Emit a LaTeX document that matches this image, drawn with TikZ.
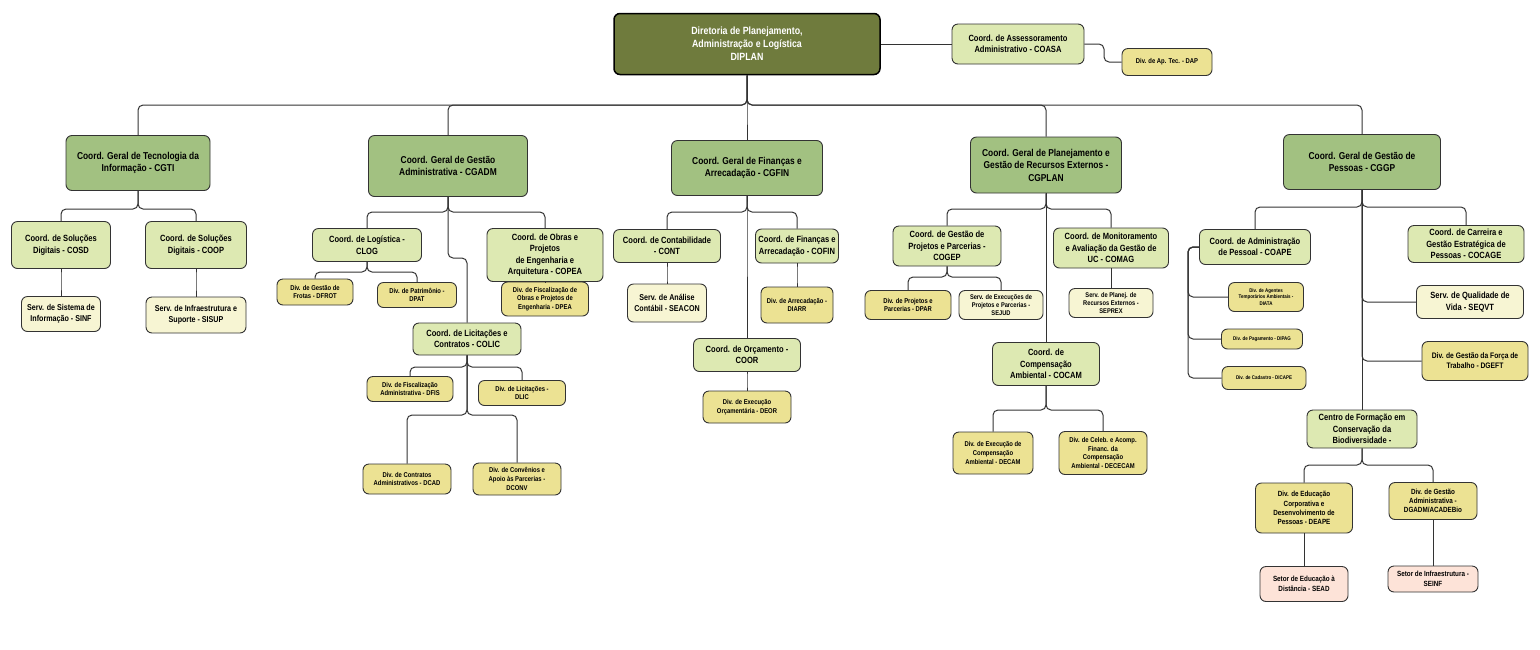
\documentclass[tikz,border=0pt]{standalone}
\usepackage{fontspec}
\setmainfont{Liberation Sans}[FakeStretch=0.84]
\begin{document}
\definecolor{cdip}{HTML}{6F7B3D}
\definecolor{cgen}{HTML}{A2C181}
\definecolor{ccoo}{HTML}{DDE9B2}
\definecolor{cyel}{HTML}{ECE293}
\definecolor{cpal}{HTML}{F7F5D3}
\definecolor{cpnk}{HTML}{FDE3D8}
\definecolor{cbrd}{HTML}{333333}
\begin{tikzpicture}[x=1pt,y=-1pt,
  wh/.style 2 args={minimum width=#1pt,minimum height=#2pt},
  box/.style={draw=cbrd,line width=0.9pt,rounded corners=6pt,align=center,inner sep=1pt,font=\bfseries},
  lv0/.style={box,fill=cdip,text=white,draw=black,line width=1.5pt,font=\bfseries\fontsize{10.5}{13}\selectfont},
  lv1/.style={box,fill=cgen,font=\bfseries\fontsize{10}{12.5}\selectfont},
  lv2/.style={box,fill=ccoo,font=\bfseries\fontsize{9}{11.5}\selectfont},
  dv/.style={box,fill=cyel,font=\bfseries\fontsize{7}{8.6}\selectfont},
  sv/.style={box,fill=cpal,font=\bfseries\fontsize{8.5}{10.5}\selectfont},
  st/.style={box,fill=cpnk,font=\bfseries\fontsize{7.5}{9.5}\selectfont},
  conn/.style={draw=cbrd,line width=1pt,rounded corners=5pt}]
\newcommand\tree[3]{\draw[conn] (#1.south) -- (#1.south |- 0,#3) -| (#2.north);}
\fill[white] (0,0) rectangle (1540,649);
\useasboundingbox (0,0) rectangle (1540,649);

\node[lv0,wh={266}{61}] (DIPLAN) at (747,44) {Diretoria de Planejamento,\\Administração e Logística\\DIPLAN};
\node[lv2,wh={132}{40}] (COASA) at (1018,44) {Coord. de Assessoramento\\Administrativo - COASA};
\node[dv,wh={90}{27}] (DAP) at (1167,62) {Div. de Ap. Tec. - DAP};

\node[lv1,wh={144}{55}] (CGTI) at (138,163) {Coord. Geral de Tecnologia da\\Informação - CGTI};
\node[lv1,wh={159}{61}] (CGADM) at (448,166) {Coord. Geral de Gestão\\Administrativa - CGADM};
\node[lv1,wh={151}{55}] (CGFIN) at (747,168) {Coord. Geral de Finanças e\\Arrecadação - CGFIN};
\node[lv1,wh={151}{56}] (CGPLAN) at (1046,165) {Coord. Geral de Planejamento e\\Gestão de Recursos Externos -\\CGPLAN};
\node[lv1,wh={157}{55}] (CGGP) at (1362,162) {Coord. Geral de Gestão de\\Pessoas - CGGP};

\node[lv2,wh={99}{47}] (COSD) at (61,245) {Coord. de Soluções\\Digitais - COSD};
\node[lv2,wh={101}{47}] (COOP) at (196,245) {Coord. de Soluções\\Digitais - COOP};
\node[sv,wh={79}{35}] (SINF) at (61,314) {Serv. de Sistema de\\Informação - SINF};
\node[sv,wh={100}{36}] (SISUP) at (196,315) {Serv. de Infraestrutura e\\Suporte - SISUP};

\node[lv2,wh={109}{33}] (CLOG) at (367,245) {Coord. de Logística -\\CLOG};
\node[lv2,wh={116}{53}] (COPEA) at (545,255) {Coord. de Obras e\\Projetos\\de Engenharia e\\Arquitetura - COPEA};
\node[dv,wh={76}{26}] (DFROT) at (315,292) {Div. de Gestão de\\Frotas - DFROT};
\node[dv,wh={79}{25}] (DPAT) at (417,295) {Div. de Patrimônio -\\DPAT};
\node[dv,wh={87}{34}] (DPEA) at (545,299) {Div. de Fiscalização de\\Obras e Projetos de\\Engenharia - DPEA};
\node[lv2,wh={108}{32}] (COLIC) at (467,339) {Coord. de Licitações e\\Contratos - COLIC};
\node[dv,wh={86}{25}] (DFIS) at (410,389) {Div. de Fiscalização\\Administrativa - DFIS};
\node[dv,wh={87}{25}] (DLIC) at (522,393) {Div. de Licitações -\\DLIC};
\node[dv,wh={88}{30}] (DCAD) at (407,479) {Div. de Contratos\\Administrativos - DCAD};
\node[dv,wh={88}{32}] (DCONV) at (517,479) {Div. de Convênios e\\Apoio às Parcerias -\\DCONV};

\node[lv2,wh={107}{33}] (CONT) at (667,246) {Coord. de Contabilidade\\- CONT};
\node[lv2,wh={83}{34}] (COFIN) at (797,246) {Coord. de Finanças e\\Arrecadação - COFIN};
\node[sv,wh={79}{38}] (SEACON) at (667,303) {Serv. de Análise\\Contábil - SEACON};
\node[dv,wh={72}{36}] (DIARR) at (797,305) {Div. de Arrecadação -\\DIARR};
\node[lv2,wh={107}{33}] (COOR) at (747,355) {Coord. de Orçamento -\\COOR};
\node[dv,wh={88}{32}] (DEOR) at (747,407) {Div. de Execução\\Orçamentária - DEOR};

\node[lv2,wh={108}{40}] (COGEP) at (947,246) {Coord. de Gestão de\\Projetos e Parcerias -\\COGEP};
\node[lv2,wh={115}{40}] (COMAG) at (1111,248) {Coord. de Monitoramento\\e Avaliação da Gestão de\\UC - COMAG};
\node[dv,wh={86}{29}] (DPAR) at (908,305) {Div. de Projetos e\\Parcerias - DPAR};
\node[sv,wh={84}{29},font=\bfseries\fontsize{6.8}{8.4}\selectfont] (SEJUD) at (1001,305) {Serv. de Execuções de\\Projetos e Parcerias -\\SEJUD};
\node[sv,wh={84}{29},font=\bfseries\fontsize{6.8}{8.4}\selectfont] (SEPREX) at (1111,303) {Serv. de Planej. de\\Recursos Externos -\\SEPREX};
\node[lv2,wh={107}{43}] (COCAM) at (1046,364) {Coord. de\\Compensação\\Ambiental - COCAM};
\node[dv,wh={80}{42}] (DECAM) at (993,453) {Div. de Execução de\\Compensação\\Ambiental - DECAM};
\node[dv,wh={88}{43}] (DECECAM) at (1103,453) {Div. de Celeb. e Acomp.\\Financ. da\\Compensação\\Ambiental - DECECAM};

\node[lv2,wh={111}{35}] (COAPE) at (1255,247) {Coord. de Administração\\de Pessoal - COAPE};
\node[lv2,wh={116}{37}] (COCAGE) at (1466,244) {Coord. de Carreira e\\Gestão Estratégica de\\Pessoas - COCAGE};
\node[sv,wh={107}{33},font=\bfseries\fontsize{9}{11.5}\selectfont] (SEQVT) at (1470,302) {Serv. de Qualidade de\\Vida - SEQVT};
\node[dv,wh={106}{39},font=\bfseries\fontsize{8}{10}\selectfont] (DGEFT) at (1475,361) {Div. de Gestão da Força de\\Trabalho - DGEFT};
\node[dv,wh={75}{29},font=\bfseries\fontsize{5.3}{6.8}\selectfont] (DIATA) at (1266,297) {Div. de Agentes\\Temporários Ambientais -\\DIATA};
\node[dv,wh={81}{20},font=\bfseries\fontsize{5.3}{6.8}\selectfont] (DIPAG) at (1262,339) {Div. de Pagamento - DIPAG};
\node[dv,wh={84}{23},font=\bfseries\fontsize{5.3}{6.8}\selectfont] (DICAPE) at (1264,378) {Div. de Cadastro - DICAPE};
\node[lv2,wh={110}{38}] (CFCB) at (1362,429) {Centro de Formação em\\Conservação da\\Biodiversidade -};
\node[dv,wh={97}{50},font=\bfseries\fontsize{7.5}{9.3}\selectfont] (DEAPE) at (1304,508) {Div. de Educação\\Corporativa e\\Desenvolvimento de\\Pessoas - DEAPE};
\node[dv,wh={88}{37},font=\bfseries\fontsize{7.5}{9.3}\selectfont] (DGADM) at (1433,501) {Div. de Gestão\\Administrativa -\\DGADM/ACADEBio};
\node[st,wh={88}{35}] (SEAD) at (1304,584) {Setor de Educação à\\Distância - SEAD};
\node[st,wh={90}{26}] (SEINF) at (1433,579) {Setor de Infraestrutura -\\SEINF};

% connectors
\coordinate (k1) at (1104,44);
\coordinate (cb) at (1188,247);
\draw[conn] (DIPLAN.east) -- (COASA.west);
\draw[conn] (COASA.east) -- (k1) |- (DAP.west);
\foreach \c in {CGTI,CGADM,CGFIN,CGPLAN,CGGP} {\tree{DIPLAN}{\c}{105}}
\tree{CGTI}{COSD}{209}\tree{CGTI}{COOP}{209}
\tree{COSD}{SINF}{280}\tree{COOP}{SISUP}{280}
\tree{CGADM}{CLOG}{212}\tree{CGADM}{COPEA}{212}\tree{CGADM}{COLIC}{258}
\tree{CLOG}{DFROT}{272}\tree{CLOG}{DPAT}{272}
\draw[conn] (COPEA.south) -- (DPEA.north);
\tree{COLIC}{DFIS}{367}\tree{COLIC}{DLIC}{367}
\tree{COLIC}{DCAD}{415}\tree{COLIC}{DCONV}{415}
\tree{CGFIN}{CONT}{212}\tree{CGFIN}{COFIN}{212}\tree{CGFIN}{COOR}{212}
\tree{CONT}{SEACON}{275}\tree{COFIN}{DIARR}{275}\tree{COOR}{DEOR}{380}
\tree{CGPLAN}{COGEP}{209}\tree{CGPLAN}{COMAG}{209}\tree{CGPLAN}{COCAM}{280}
\tree{COGEP}{DPAR}{277}\tree{COGEP}{SEJUD}{277}\tree{COMAG}{SEPREX}{278}
\tree{COCAM}{DECAM}{410}\tree{COCAM}{DECECAM}{410}
\tree{CGGP}{COAPE}{207}\tree{CGGP}{COCAGE}{207}\tree{CGGP}{CFCB}{207}
\draw[conn] (CGGP.south) |- (SEQVT.west);
\draw[conn] (CGGP.south) |- (DGEFT.west);
\draw[conn] (COAPE.west) -- (cb) |- (DIATA.west);
\draw[conn] (COAPE.west) -- (cb) |- (DIPAG.west);
\draw[conn] (COAPE.west) -- (cb) |- (DICAPE.west);
\tree{CFCB}{DEAPE}{465}\tree{CFCB}{DGADM}{465}
\tree{DEAPE}{SEAD}{550}\tree{DGADM}{SEINF}{550}
\end{tikzpicture}
\end{document}
